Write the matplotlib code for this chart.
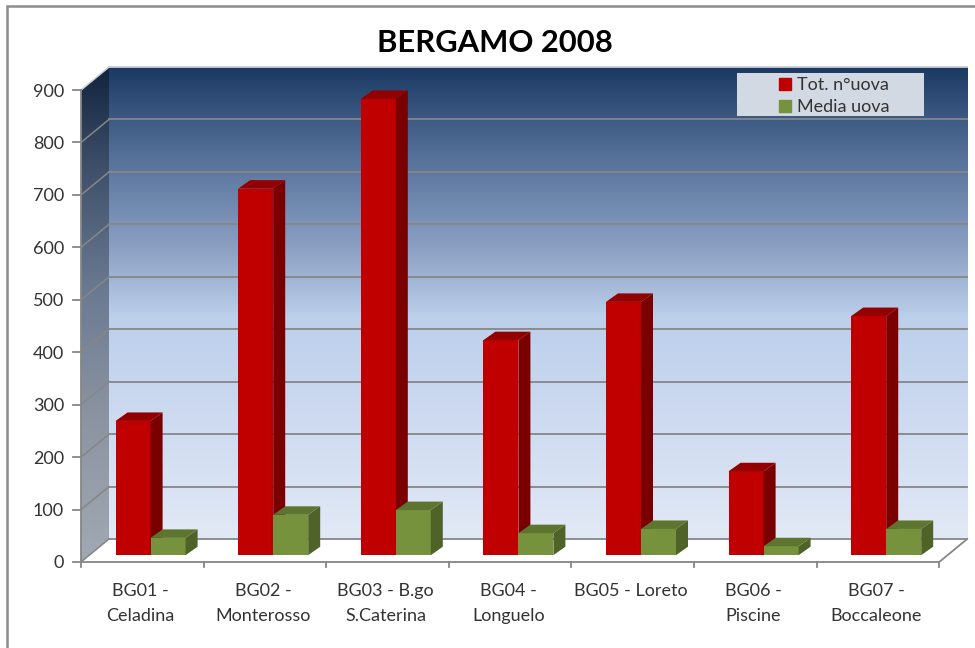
import numpy as np
import matplotlib
matplotlib.use('Agg')
import matplotlib.pyplot as plt
from matplotlib.colors import LinearSegmentedColormap
from matplotlib.patches import Patch, Polygon, Rectangle

plt.rcParams['font.family'] = ['Lato', 'DejaVu Sans']

categories = ['BG01 -\nCeladina', 'BG02 -\nMonterosso', 'BG03 - B.go\nS.Caterina',
              'BG04 -\nLonguelo', 'BG05 - Loreto', 'BG06 -\nPiscine', 'BG07 -\nBoccaleone']
tot_uova = [256, 699, 870, 410, 483, 160, 456]
media_uova = [33, 77, 86, 42, 50, 17, 50]
y_ticks = [0, 100, 200, 300, 400, 500, 600, 700, 800, 900]

# pixels per data unit, the axes fill the whole figure
PX_X = 122.6
PX_Y = 0.5244
X0, Y0 = 81, 562
W, H = 975, 648

# 3d look: wall offset and bar offset, in data units
WALL_DX, WALL_DY = 28 / PX_X, 23 / PX_Y
BAR_DX, BAR_DY = 12 / PX_X, 8.5 / PX_Y
BAR_BASE = 13
BAR_W = 35 / PX_X
BAR_OFF = 34.6 / PX_X

AXIS_COL = '#868686'
TEXT_COL = '#333333'

fig = plt.figure(figsize=(W / 100, H / 100), dpi=100)
ax = fig.add_axes([0, 0, 1, 1])
ax.set_xticks([])
ax.set_yticks([])
for s in ax.spines.values():
    s.set_visible(False)

# outer frame of the chart
fig.add_artist(Rectangle((7 / W, -0.02), 1.1, 1.02 - 6 / H, transform=fig.transFigure,
                         fill=False, ec='#8c8c8c', lw=1.8))

n = len(categories)
top = y_ticks[-1]

# back wall
back_cmap = LinearSegmentedColormap.from_list('back', [(0, '#e2e9f6'), (0.22, '#d0dcf1'), (0.47, '#bccfeb'),
                                                       (0.62, '#8a9fc2'), (0.82, '#536f98'), (1, '#1b3a63')])
side_cmap = LinearSegmentedColormap.from_list('side', [(0, '#a1a9b4'), (0.3, '#8b93a1'), (0.55, '#6a7a92'),
                                                       (0.8, '#3e4f69'), (1, '#12243d')])
grad = np.linspace(1, 0, 256).reshape(-1, 1)
ax.imshow(grad, cmap=back_cmap, aspect='auto', zorder=1,
          extent=(WALL_DX, n + WALL_DX, WALL_DY, top + WALL_DY))
side_img = ax.imshow(grad, cmap=side_cmap, aspect='auto', zorder=1,
                     extent=(0, WALL_DX, 0, top + WALL_DY))
side_img.set_clip_path(Polygon([(0, 0), (WALL_DX, WALL_DY), (WALL_DX, top + WALL_DY), (0, top)],
                               transform=ax.transData))
ax.set_xlim(-X0 / PX_X, (W - X0) / PX_X)
ax.set_ylim(-(H - Y0) / PX_Y, Y0 / PX_Y)

# gridlines on both walls, ticks and y labels
for t in y_ticks:
    col = '#c9ced6' if t == top else AXIS_COL
    ax.plot([WALL_DX, n + WALL_DX], [t + WALL_DY, t + WALL_DY], color=col, lw=1.3, zorder=2)
    ax.plot([0, WALL_DX], [t, t + WALL_DY], color=col, lw=1.1, zorder=2)
    ax.plot([-8 / PX_X, 0], [t, t], color=AXIS_COL, lw=1.3, zorder=2)
    ax.text(-17 / PX_X, t - 1.5 / PX_Y, str(t), ha='right', va='center', fontsize=13, color=TEXT_COL)
ax.plot([n, n + WALL_DX], [0, WALL_DY], color=AXIS_COL, lw=1.3, zorder=2)
ax.plot([0, 0], [0, top], color=AXIS_COL, lw=1.3, zorder=2)
ax.plot([0, n], [0, 0], color=AXIS_COL, lw=1.3, zorder=2)


def bar_3d(x, v, front, side, roof, z):
    y1 = v + BAR_BASE
    ax.bar(x, v, width=BAR_W, bottom=BAR_BASE, align='edge', color=front, zorder=z)
    ax.add_patch(Polygon([(x + BAR_W, BAR_BASE), (x + BAR_W + BAR_DX, BAR_BASE + BAR_DY),
                          (x + BAR_W + BAR_DX, y1 + BAR_DY), (x + BAR_W, y1)], color=side, lw=0, zorder=z))
    ax.add_patch(Polygon([(x, y1), (x + BAR_DX, y1 + BAR_DY), (x + BAR_W + BAR_DX, y1 + BAR_DY),
                          (x + BAR_W, y1)], color=roof, lw=0, zorder=z))


for i in range(n):
    bar_3d(i + BAR_OFF, tot_uova[i], '#c00000', '#7a0000', '#930000', 3)
    bar_3d(i + BAR_OFF + BAR_W, media_uova[i], '#76923c', '#4f6228', '#5e7530', 4)

# x ticks and labels
for i in range(n + 1):
    ax.plot([i, i], [0, -5 / PX_Y], color=AXIS_COL, lw=1.3, zorder=2)
for i, c in enumerate(categories):
    ax.text(i + 0.485, -(583 - Y0) / PX_Y, c, ha='center', va='top', fontsize=13, color=TEXT_COL,
            linespacing=1.72)

ax.text(495 / W, 1 - 43 / H, 'BERGAMO 2008', transform=ax.transAxes, ha='center', va='center',
        fontsize=22.3, fontweight='bold', color='black')

# legend box
ax.add_patch(Rectangle((737 / W, 1 - 116 / H), 187 / W, 43 / H, transform=ax.transAxes,
                       fc='#d2d9e3', ec='none', zorder=5))
handles = [Patch(color='#c00000', label='Tot. n°uova'), Patch(color='#76923c', label='Media uova')]
leg = ax.legend(handles=handles, frameon=False, loc='center left', bbox_to_anchor=(763 / W, 1 - 96 / H),
                fontsize=13, handlelength=0.65, handleheight=0.65, handletextpad=0.35, labelspacing=0.32,
                labelcolor='#333333')
leg.set_zorder(6)

fig.savefig('out.png', dpi=100)
